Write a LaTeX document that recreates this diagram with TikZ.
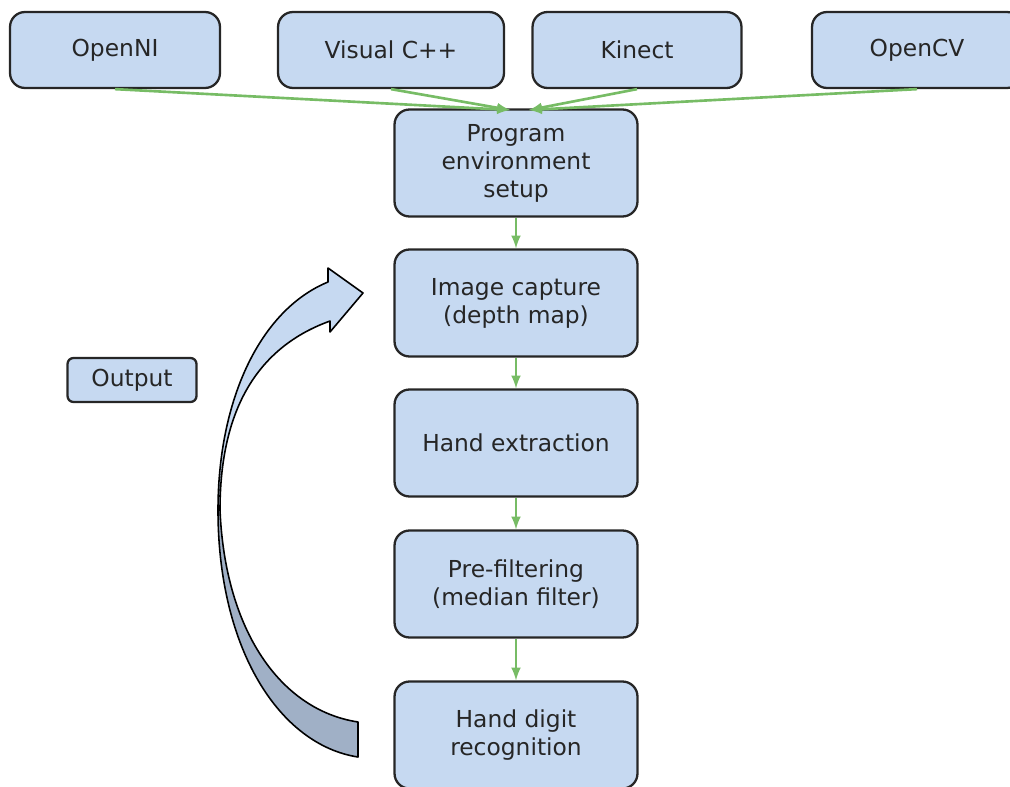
\documentclass[tikz,border=0pt]{standalone}
\usepackage{fontspec}
\setmainfont{DejaVu Sans}
\definecolor{boxblue}{RGB}{198,217,241}
\definecolor{arrgreen}{RGB}{119,188,101}
\definecolor{backblue}{RGB}{160,176,198}
\begin{document}
\begin{tikzpicture}[x=0.02cm,y=-0.02cm,>=latex,line join=round,font=\fontsize{13.3}{15.9}\selectfont,
	box/.style={draw=black!85,line width=1.3pt,fill=boxblue,rounded corners=0.3cm,align=center,inner sep=0pt,text=black!85},
	mainbox/.style={box,minimum width=4.86cm,minimum height=2.14cm},
	topbox/.style={box,minimum height=1.52cm},
	flow/.style={->,draw=arrgreen,fill=arrgreen,line width=1.5pt}]
	\useasboundingbox (0,0) rectangle (1010,787);
	\node[topbox,minimum width=4.2cm] (openni) at (115,50) {OpenNI};
	\node[topbox,minimum width=4.52cm] (vcpp) at (391,50) {Visual C++};
	\node[topbox,minimum width=4.18cm] (kinect) at (637,50) {Kinect};
	\node[topbox,minimum width=4.2cm] (opencv) at (917,50) {OpenCV};
	\node[mainbox] (setup) at (516,163) {Program\\environment\\setup};
	\node[mainbox] (capture) at (516,303) {Image capture\\(depth map)};
	\node[mainbox] (extract) at (516,443) {Hand extraction};
	\node[mainbox] (filter) at (516,584) {Pre-filtering\\(median filter)};
	\node[mainbox] (recog) at (516,735) {Hand digit\\recognition};
	\node[box,rounded corners=0.12cm,minimum width=2.58cm,minimum height=0.88cm] (output) at (132,380) {Output};
	\coordinate (inl) at (510,110);
	\coordinate (inr) at (529,110);
	\draw[flow] (openni.south) -- (inl);
	\draw[flow] (vcpp.south) -- (inl);
	\draw[flow] (kinect.south) -- (inr);
	\draw[flow] (opencv.south) -- (inr);
	\draw[flow] (setup) -- (capture);
	\draw[flow] (capture) -- (extract);
	\draw[flow] (extract) -- (filter);
	\draw[flow] (filter) -- (recog);
	% loop back arrow
	\draw[fill=backblue,line width=0.9pt] (218,510) .. controls (218,650) and (280,745) .. (358,757) -- (358,722) .. controls (280,710) and (225,630) .. (220,510) -- cycle;
	\draw[fill=boxblue,line width=0.9pt] (218,510) .. controls (218,400) and (260,310) .. (328,282) -- (328,268) -- (363,293) -- (330,332) -- (330,321) .. controls (250,350) and (220,420) .. (220,510) -- cycle;
\end{tikzpicture}
\end{document}
